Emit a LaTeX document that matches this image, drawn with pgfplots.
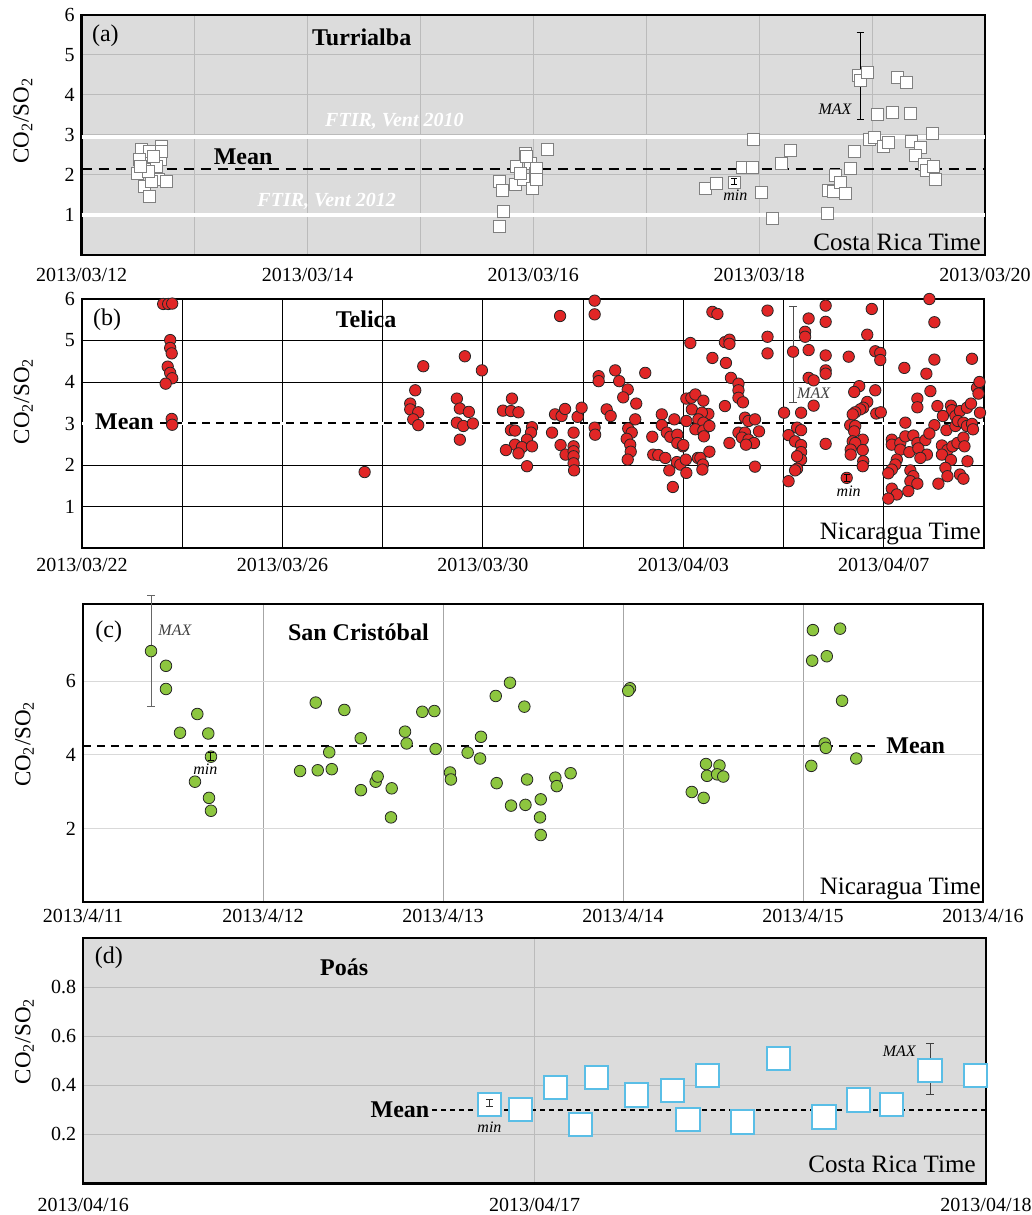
\documentclass[border=0pt]{standalone}
\usepackage{fontspec}
\setmainfont{Liberation Serif}
\usepackage{pgfplots}
\pgfplotsset{compat=1.18}
\definecolor{bgA}{HTML}{DCDCDC}
\definecolor{gridA}{HTML}{BBBBBB}
\definecolor{redpt}{HTML}{E12626}
\definecolor{greenpt}{HTML}{8DC63F}
\definecolor{bluebox}{HTML}{5ABEE6}
\newcommand{\fs}[1]{\fontsize{#1}{#1}\selectfont}
\pgfplotsset{
  panel/.style={
    scale only axis, clip=false, clip marker paths=true,
    xmajorgrids, ymajorgrids,
    major tick length=0pt,
    axis line style={line width=1.1pt},
    /pgf/number format/assume math mode=true,
    ticklabel style={font=\fs{10}},
    ylabel={CO\textsubscript{2}/SO\textsubscript{2}},
    ylabel style={font=\fs{11.5}, anchor=center},
  },
  errplot/.style 2 args={draw=none, mark=none, forget plot,
    error bars/.cd, y dir=both, y explicit,
    error bar style={draw=#1, solid, line width=0.5pt},
    error mark options={rotate=90, draw=#1, solid, line width=0.5pt, mark size=#2}},
}
\begin{document}
\begin{tikzpicture}
\useasboundingbox (0pt,0pt) rectangle (516pt,607.5pt);
% ---------------- (a) Turrialba
\begin{axis}[panel, at={(40.8pt,480pt)}, anchor=south west, width=451.7pt, height=120pt,
  xmin=12, xmax=20, ymin=0, ymax=6,
  xtick={12,...,20}, xticklabels={2013/03/12,,2013/03/14,,2013/03/16,,2013/03/18,,2013/03/20},
  ytick={1,...,6},
  xticklabel style={yshift=-3pt},
  ylabel style={at={(axis description cs:-0.065,0.56)}},
  axis background/.style={fill=bgA},
  grid style={gridA, line width=0.5pt},
  axis line style={line width=1.3pt}]
\addplot[white, line width=2pt] coordinates {(12,2.95) (20,2.95)};
\addplot[white, line width=2pt] coordinates {(12,1.0) (20,1.0)};
\addplot[black, line width=1pt, dash pattern=on 5pt off 3.5pt] coordinates {(12,2.15) (20,2.15)};
\addplot[errplot={black}{1.8pt}] coordinates {(18.894,4.47) +- (0,1.08)};
\addplot[only marks, mark=square*, mark size=3pt, mark options={fill=white, draw=gray, line width=0.5pt}] coordinates {
(12.528,2.63) (12.604,2.58) (12.711,2.71) (12.696,2.39) (12.543,2.29) (12.558,2.13) (12.650,2.04) (12.680,1.88)
(12.756,1.83) (12.558,1.71) (12.619,1.83) (12.604,1.46) (12.497,2.04) (12.513,2.38) (12.665,2.21) (12.588,2.08)
(12.711,2.58) (12.522,2.21) (12.635,2.46)
(15.700,1.83) (15.731,1.61) (15.736,1.08) (15.700,0.71) (15.928,2.54) (15.852,2.21) (15.845,1.75) (15.974,2.29)
(15.911,1.88) (15.989,1.67) (16.020,2.04) (16.025,2.17) (16.031,1.88) (16.125,2.63) (15.94,2.46) (15.883,2.04)
(17.528,1.67) (17.619,1.79) (17.778,1.81) (17.856,2.18) (17.944,2.18) (17.947,2.88) (18.024,1.57) (18.115,0.90)
(18.201,2.29) (18.274,2.62)
(18.605,1.04) (18.614,1.61) (18.658,1.58) (18.679,1.98) (18.724,1.81) (18.768,1.53) (18.812,2.17) (18.844,2.58)
(18.880,4.48) (18.901,4.35) (18.963,4.57) (18.974,2.88) (19.019,2.93) (19.101,2.71) (19.145,2.81) (19.051,3.52)
(19.181,3.56) (19.344,3.53) (19.229,4.43) (19.308,4.32) (19.353,2.83) (19.426,2.68) (19.388,2.48) (19.539,3.04)
(19.464,2.27) (19.479,2.10) (19.544,2.21) (19.559,1.89)
};
\addplot[errplot={black}{1.5pt}] coordinates {(17.778,1.83) +- (0,0.08)};
\node[anchor=west, font=\fs{12}] at (axis cs:12.03,5.48) {(a)};
\node[font=\fs{12}\bfseries] at (axis cs:14.48,5.45) {Turrialba};
\node[font=\fs{12}\bfseries] at (axis cs:13.43,2.45) {Mean};
\node[font=\fs{10}\bfseries\itshape, text=white] at (axis cs:14.77,3.35) {FTIR, Vent 2010};
\node[font=\fs{10}\bfseries\itshape, text=white] at (axis cs:14.17,1.35) {FTIR, Vent 2012};
\node[anchor=east, font=\fs{8}\itshape] at (axis cs:18.88,3.65) {MAX};
\node[font=\fs{8}\itshape] at (axis cs:17.79,1.5) {min};
\node[anchor=south east, inner sep=2pt, font=\fs{12.5}] at (rel axis cs:1,0) {Costa Rica Time};
\end{axis}
% ---------------- (b) Telica
\begin{axis}[panel, at={(41pt,333.5pt)}, anchor=south west, width=451pt, height=124.5pt,
  xmin=0, xmax=18, ymin=0, ymax=6,
  xtick={0,2,...,18}, xticklabels={2013/03/22,,2013/03/26,,2013/03/30,,2013/04/03,,2013/04/07,},
  ytick={1,...,6},
  xticklabel style={yshift=-1.5pt},
  ylabel style={at={(axis description cs:-0.065,0.59)}},
  grid style={black, line width=0.45pt}]
\addplot[white, line width=1.2pt] coordinates {(0,3.0) (18,3.0)};
\addplot[black, line width=1pt, dash pattern=on 4pt off 3pt] coordinates {(1.56,3.0) (18,3.0)};
\addplot[errplot={black!70}{1.8pt}] coordinates {(14.19,4.66) +- (0,1.16)};
\addplot[only marks, mark=*, mark size=2.85pt, mark options={fill=redpt, draw=black!85, line width=0.4pt}] coordinates {
(1.62,5.88) (1.72,5.88) (1.80,5.89)
(1.76,5.01) (1.76,4.82) (1.79,4.69) (1.71,4.37) (1.76,4.22) (1.80,4.09) (1.67,3.96) (1.79,3.11) (1.80,2.97)
(5.64,1.83)
(6.81,4.38) (6.65,3.80) (6.55,3.48) (6.55,3.34) (6.71,3.27) (6.61,3.10) (6.71,2.96)
(7.64,4.62) (7.48,3.60) (7.54,3.36) (7.72,3.28) (7.48,3.02) (7.61,2.94) (7.80,3.00) (7.54,2.61) (7.98,4.28)
(8.58,3.60) (8.40,3.31) (8.56,3.30) (8.71,3.27) (8.56,2.84) (8.64,2.83) (8.98,2.91) (8.96,2.78) (8.88,2.61)
(8.64,2.49) (8.78,2.43) (8.98,2.45) (8.46,2.36) (8.71,2.28) (8.88,1.97)
(9.54,5.59) (9.38,2.78) (9.44,3.22) (9.57,3.18) (9.64,3.35) (9.55,2.48) (9.65,2.25) (9.81,2.78) (9.81,2.45)
(9.81,2.33) (9.81,2.21) (9.81,2.04) (9.82,1.87) (9.89,3.16) (9.97,3.38)
(10.23,5.96) (10.23,5.63) (10.31,4.14) (10.31,4.02) (10.23,2.90) (10.24,2.73) (10.47,3.34) (10.55,3.18)
(10.64,4.28) (10.72,4.02) (10.89,3.82) (10.80,3.63) (11.06,3.48) (11.04,3.10) (10.90,2.88) (10.97,2.78)
(10.87,2.63) (10.94,2.49) (10.95,2.32) (10.89,2.13)
(11.24,4.22) (12.14,4.94) (11.38,2.68) (11.57,3.22) (11.57,2.96) (11.40,2.25) (11.50,2.24) (11.64,2.17)
(11.67,2.78) (11.74,2.68) (11.82,3.10) (11.88,2.73) (11.88,2.53) (11.99,2.45) (11.72,1.87) (11.87,2.07)
(11.94,2.01) (12.05,2.13) (12.06,1.81) (11.79,1.47) (12.06,3.60) (12.16,3.62) (12.17,3.34) (12.06,3.06)
(12.24,3.70) (12.29,2.17)
(12.58,5.69) (12.68,5.64) (13.68,5.72) (12.83,4.96) (12.92,5.02) (12.92,4.92) (13.68,5.09) (13.68,4.69)
(12.58,4.58) (12.85,4.46) (12.95,4.10) (13.10,3.96) (13.10,3.80) (13.10,3.62) (13.19,3.51) (12.83,3.42)
(12.40,3.55) (12.50,3.23) (12.37,3.26) (12.30,3.10) (12.40,3.02) (12.24,2.86) (12.40,2.83) (12.52,2.94)
(12.41,2.69) (12.00,2.48) (12.34,2.17) (12.39,2.01) (12.38,1.89) (12.52,2.32)
(13.23,3.14) (13.30,3.06) (13.43,3.10) (13.10,2.78) (13.23,2.78) (13.51,2.81) (13.17,2.66) (13.30,2.61)
(13.41,2.53) (12.92,2.53) (13.25,2.49) (13.43,1.96)
(14.01,3.26) (14.35,3.26) (14.19,4.73) (14.50,5.53) (14.84,5.84) (14.43,5.21) (14.43,5.09) (14.50,4.77)
(14.84,5.45) (14.84,4.64) (14.84,4.28) (14.84,4.20) (14.50,4.10) (14.60,4.04) (14.60,3.43) (15.30,4.61)
(14.10,2.72) (14.27,2.90) (14.35,2.84) (14.23,2.57) (14.35,2.48) (14.35,2.31) (14.35,2.13) (14.27,2.21)
(14.27,1.91) (14.23,1.87) (14.10,1.61) (14.84,2.51)
(15.76,5.76) (15.67,5.14) (15.83,4.74) (15.93,4.70) (15.93,4.53) (15.51,3.90) (15.41,3.76) (15.83,3.80)
(15.67,3.52) (15.59,3.38) (15.53,3.34) (15.43,3.27) (15.38,3.22) (15.85,3.24) (15.94,3.27) (15.33,2.96)
(15.43,2.94) (15.41,2.81) (15.38,2.57) (15.58,2.61) (15.43,2.53) (15.34,2.37) (15.58,2.36) (15.34,2.25)
(15.59,2.09) (15.58,1.97)
(16.91,6.00) (17.01,5.44) (16.41,4.34) (16.85,4.20) (17.01,4.54) (17.76,4.56) (16.67,3.60) (16.67,3.39)
(16.93,3.78) (17.07,3.42) (17.34,3.43) (17.36,3.32) (17.18,3.18) (17.43,3.18) (17.52,3.30) (17.66,3.38)
(17.74,3.48) (17.92,3.26) (17.86,3.86) (17.91,4.00) (17.89,3.72)
(16.43,3.02) (17.01,2.96) (17.25,2.84) (17.43,2.94) (17.48,3.06) (17.59,3.02) (17.66,2.94) (17.76,2.99) (17.78,2.86)
(16.16,2.61) (16.16,2.49) (16.33,2.53) (16.43,2.69) (16.59,2.71) (16.67,2.53) (16.83,2.60) (16.91,2.76)
(16.33,2.37) (16.51,2.31) (16.69,2.40) (16.86,2.25) (16.73,2.17) (16.26,2.13) (16.23,2.01) (16.16,1.89) (16.09,1.80)
(17.16,2.47) (17.27,2.36) (17.37,2.45) (17.47,2.53) (17.59,2.66) (17.61,2.45) (17.16,2.25) (17.34,2.12)
(17.23,1.93) (17.27,1.73) (17.09,1.55) (17.52,1.77) (17.59,1.67) (17.67,2.09)
(16.53,1.87) (16.59,1.73) (16.53,1.61) (16.67,1.55) (16.49,1.37) (16.16,1.43) (16.26,1.29) (16.09,1.19)
(15.26,1.69)
};
\addplot[errplot={black}{1.5pt}] coordinates {(15.26,1.69) +- (0,0.09)};
\node[anchor=west, font=\fs{12}] at (axis cs:0.08,5.5) {(b)};
\node[font=\fs{12}\bfseries] at (axis cs:5.67,5.5) {Telica};
\node[anchor=east, inner sep=1pt, font=\fs{12}\bfseries] at (axis cs:1.48,3.05) {Mean};
\node[font=\fs{8}\itshape, text=black!75] at (axis cs:14.6,3.72) {MAX};
\node[font=\fs{8}\itshape] at (axis cs:15.3,1.36) {min};
\node[anchor=south east, inner sep=1.5pt, font=\fs{12.5}] at (rel axis cs:1,0) {Nicaragua Time};
\end{axis}
% ---------------- (c) San Cristobal
\begin{axis}[panel, at={(41.5pt,156.5pt)}, anchor=south west, width=450pt, height=149pt,
  xmin=11, xmax=16, ymin=0, ymax=8.1,
  xtick={11,...,16}, xticklabels={2013/4/11,2013/4/12,2013/4/13,2013/4/14,2013/4/15,2013/4/16},
  ytick={2,4,6},
  ylabel style={at={(axis description cs:-0.065,0.53)}},
  x grid style={gray!70, line width=0.4pt},
  y grid style={gray!30, line width=0.6pt}]
\addplot[black, line width=0.9pt, dash pattern=on 4pt off 3pt] coordinates {(11,4.24) (15.417,4.24)};
\addplot[errplot={black!60}{1.8pt}] coordinates {(11.378,6.82) +- (0,1.5)};
\addplot[only marks, mark=*, mark size=2.9pt, mark options={fill=greenpt, draw=black!85, line width=0.4pt}] coordinates {
(11.378,6.82) (11.461,6.42) (11.461,5.79) (11.539,4.60) (11.635,5.11) (11.696,4.58) (11.711,3.95) (11.622,3.27)
(11.700,2.83) (11.711,2.48)
(12.206,3.56) (12.293,5.42) (12.304,3.58) (12.368,4.07) (12.382,3.61) (12.452,5.22) (12.543,4.45) (12.544,3.04)
(12.626,3.27) (12.637,3.41) (12.715,3.09) (12.711,2.30) (12.789,4.63) (12.798,4.31) (12.885,5.17) (12.952,5.19)
(12.959,4.16)
(13.039,3.52) (13.044,3.33) (13.137,4.06) (13.206,3.90) (13.211,4.49) (13.293,5.60) (13.298,3.23) (13.372,5.96)
(13.378,2.62) (13.452,5.31) (13.467,3.33) (13.458,2.64) (13.543,2.79) (13.539,2.30) (13.543,1.82) (13.624,3.38)
(13.632,3.15) (13.709,3.50)
(14.039,5.81) (14.029,5.74) (14.382,2.99) (14.448,2.83) (14.461,3.75) (14.536,3.71) (14.467,3.43) (14.523,3.47)
(14.557,3.41)
(15.055,7.39) (15.206,7.43) (15.051,6.56) (15.132,6.68) (15.217,5.47) (15.121,4.31) (15.127,4.19) (15.046,3.70)
(15.296,3.90)
};
\addplot[errplot={black}{1.5pt}] coordinates {(11.711,3.95) +- (0,0.1)};
\node[anchor=west, font=\fs{12}] at (axis cs:11.03,7.34) {(c)};
\node[font=\fs{12}\bfseries] at (axis cs:12.53,7.34) {San Cristóbal};
\node[anchor=west, inner sep=1pt, font=\fs{12}\bfseries] at (axis cs:15.45,4.26) {Mean};
\node[anchor=west, font=\fs{8}\itshape, text=black!75] at (axis cs:11.38,7.4) {MAX};
\node[font=\fs{8}\itshape] at (axis cs:11.68,3.6) {min};
\node[anchor=south east, inner sep=1pt, font=\fs{12.5}] at (rel axis cs:1,0) {Nicaragua Time};
\end{axis}
% ---------------- (d) Poas
\begin{axis}[panel, at={(41.6pt,15.9pt)}, anchor=south west, width=451.4pt, height=122.5pt,
  xmin=16, xmax=18, ymin=0, ymax=1,
  xtick={16,17,18}, xticklabels={2013/04/16,2013/04/17,2013/04/18},
  ytick={0.2,0.4,0.6,0.8},
  xticklabel style={yshift=-4pt},
  ylabel style={at={(axis description cs:-0.065,0.58)}},
  axis background/.style={fill=bgA},
  grid style={gridA, line width=0.5pt},
  axis line style={line width=1.3pt}]
\addplot[black, line width=0.8pt, dash pattern=on 2.5pt off 2pt] coordinates {(16.773,0.30) (18,0.30)};
\addplot[errplot={black!75}{1.8pt}] coordinates {(17.876,0.465) +- (0,0.105)};
\addplot[only marks, mark=square*, mark size=5.8pt, mark options={fill=white, draw=bluebox, line width=1pt}] coordinates {
(16.900,0.32) (16.969,0.30) (17.046,0.39) (17.102,0.24) (17.137,0.43) (17.225,0.36) (17.305,0.38) (17.340,0.26)
(17.383,0.44) (17.460,0.25) (17.541,0.51) (17.641,0.27) (17.718,0.34) (17.791,0.32) (17.876,0.46) (17.976,0.44)
};
\addplot[errplot={black!80}{1.6pt}] coordinates {(16.900,0.327) +- (0,0.014)};
\node[anchor=west, font=\fs{12}] at (axis cs:16.01,0.92) {(d)};
\node[font=\fs{12}\bfseries] at (axis cs:16.578,0.88) {Poás};
\node[anchor=east, inner sep=1pt, font=\fs{12}\bfseries] at (axis cs:16.772,0.30) {Mean};
\node[anchor=east, font=\fs{8}\itshape] at (axis cs:17.86,0.54) {MAX};
\node[font=\fs{8}\itshape] at (axis cs:16.90,0.23) {min};
\node[anchor=south east, inner sep=5pt, font=\fs{12.5}] at (rel axis cs:1,0) {Costa Rica Time};
\end{axis}
\end{tikzpicture}
\end{document}
